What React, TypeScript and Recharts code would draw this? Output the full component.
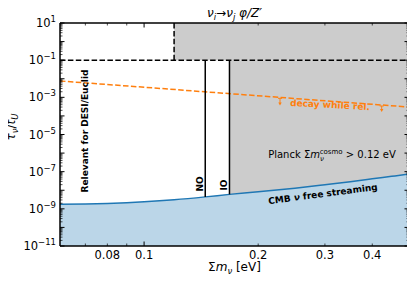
import {
  Area,
  ComposedChart,
  Line,
  ReferenceArea,
  ReferenceLine,
  XAxis,
  YAxis,
} from "recharts";

// sum of neutrino masses [eV] where the CMB free-streaming bound is read
const massSum = [0.06, 0.07, 0.08, 0.09, 0.1, 0.12, 0.145, 0.168, 0.2, 0.25, 0.3, 0.35, 0.4, 0.45, 0.5];
// tau_nu / t_U lower bound from CMB free streaming
const cmbTau = [1.74e-9, 1.82e-9, 1.95e-9, 2.14e-9, 2.4e-9, 3.1e-9, 4.4e-9, 6.0e-9, 8.2e-9, 1.3e-8, 2.0e-8, 2.9e-8, 4.1e-8, 5.6e-8, 7.4e-8];

// "decay while relativistic" line
const decayMass = [0.06, 0.5];
const decayTau = [7.6e-3, 3.0e-4];

const tauBound = 0.1;
const tauTop = 10;
const planckSum = 0.12;
const noSum = 0.145;
const ioSum = 0.168;

const xDomain = [0.06, 0.5];
const yDomain = [1e-11, 10];

const xTicks = [0.07, 0.08, 0.09, 0.1, 0.2, 0.3, 0.4];
const xMajor = [0.1];
const xLabels: Record<number, string> = { 0.08: "0.08", 0.1: "0.1", 0.2: "0.2", 0.3: "0.3", 0.4: "0.4" };

const yExponents = [-11, -10, -9, -8, -7, -6, -5, -4, -3, -2, -1, 0, 1];
const yLabelExponents = [-11, -9, -7, -5, -3, -1, 1];
const minorSteps = [2, 3, 4, 5, 6, 7, 8, 9];

const yTicks: number[] = [];
yExponents.forEach((e) => {
  yTicks.push(Math.pow(10, e));
  if (e < 1) minorSteps.forEach((s) => yTicks.push(s * Math.pow(10, e)));
});

const cmbData = massSum.map((m, i) => ({ m, tau: cmbTau[i] }));
const grayData = cmbData.filter((d) => d.m >= ioSum).map((d) => ({ m: d.m, band: [d.tau, tauBound] }));
const decayData = decayMass.map((m, i) => ({ m, tau: decayTau[i] }));
const tauAt = (m: number) => cmbTau[massSum.indexOf(m)];

const FONT = "DejaVu Sans";
const ORANGE = "#ff7f0e";
const BLUE = "#1f77b4";
const DASH = "5.5 2.4";

function isMajorY(v: number) {
  const e = Math.round(Math.log10(v));
  return { e, major: Math.abs(v / Math.pow(10, e) - 1) < 1e-6 };
}

function YTick(props: any) {
  const { x, y, payload, side } = props;
  const { e, major } = isMajorY(payload.value);
  const len = major ? 4.5 : 2.5;
  const dir = side === "left" ? 1 : -1;
  const labeled = side === "left" && major && yLabelExponents.includes(e);
  return (
    <g>
      <line x1={x} y1={y} x2={x + dir * len} y2={y} stroke="#000" strokeWidth={major ? 1 : 0.7} />
      {labeled && (
        <text x={x - 4} y={y + 4} textAnchor="end" fontSize={11.5} fontFamily={FONT} fill="#000">
          10
          <tspan dy={-5} fontSize={8.5}>
            {e < 0 ? "\u2212" + -e : e}
          </tspan>
        </text>
      )}
    </g>
  );
}

function XTick(props: any) {
  const { x, y, payload, side } = props;
  const v = payload.value;
  const major = xMajor.includes(v);
  const len = major ? 4.5 : 2.5;
  const dir = side === "bottom" ? -1 : 1;
  const label = side === "bottom" ? xLabels[v] : undefined;
  return (
    <g>
      <line x1={x} y1={y} x2={x} y2={y + dir * len} stroke="#000" strokeWidth={major ? 1 : 0.7} />
      {label && (
        <text x={x} y={y + 13} textAnchor="middle" fontSize={11.5} fontFamily={FONT} fill="#000">
          {label}
        </text>
      )}
    </g>
  );
}

// text annotations, drawn over the chart in page pixels
function Annotations() {
  return (
    <svg
      width={415}
      height={283}
      style={{ position: "absolute", left: 0, top: 0, pointerEvents: "none" }}
      fontFamily={FONT}
    >
      <text x={234.5} y={17} textAnchor="middle" fontSize={12} fill="#000">
        <tspan fontStyle="italic">ν</tspan>
        <tspan fontStyle="italic" fontSize={8.5} dy={2.5}>i</tspan>
        <tspan dy={-2.5}>→</tspan>
        <tspan fontStyle="italic">ν</tspan>
        <tspan fontStyle="italic" fontSize={8.5} dy={2.5}>j</tspan>
        <tspan dy={-2.5} fontStyle="italic"> φ/Z′</tspan>
      </text>
      <text x={234.5} y={271} textAnchor="middle" fontSize={12} fill="#000">
        Σ<tspan fontStyle="italic">m</tspan>
        <tspan fontStyle="italic" fontSize={8.5} dy={2.5}>ν</tspan>
        <tspan dy={-2.5}> [eV]</tspan>
      </text>
      <text transform="translate(15,127) rotate(-90)" textAnchor="middle" fontSize={12} fill="#000">
        <tspan fontStyle="italic">τ</tspan>
        <tspan fontStyle="italic" fontSize={8.5} dy={2.5}>ν</tspan>
        <tspan dy={-2.5}>/</tspan>
        <tspan fontStyle="italic">t</tspan>
        <tspan fontStyle="italic" fontSize={8.5} dy={2.5}>U</tspan>
      </text>
      <text
        transform="translate(85,131) rotate(-90)"
        textAnchor="middle"
        dominantBaseline="central"
        fontSize={9}
        fontWeight="bold"
        fill="#000"
      >
        Relevant for DESI/Euclid
      </text>
      <text transform="translate(200,184) rotate(-90)" textAnchor="middle" dominantBaseline="central" fontSize={9} fontWeight="bold">
        NO
      </text>
      <text transform="translate(224,185) rotate(-90)" textAnchor="middle" dominantBaseline="central" fontSize={9} fontWeight="bold">
        IO
      </text>
      <text x={332} y={158} textAnchor="middle" fontSize={10} fill="#000">
        Planck Σ<tspan fontStyle="italic">m</tspan>
        <tspan fontStyle="italic" fontSize={7} dy={2.5}>ν</tspan>
        <tspan fontSize={7} dx={-4.2} dy={-7}>cosmo</tspan>
        <tspan dy={4.5}> &gt; 0.12 eV</tspan>
      </text>
      <text
        transform="translate(323,194) rotate(-7.5)"
        textAnchor="middle"
        dominantBaseline="central"
        fontSize={9}
        fontWeight="bold"
        fill="#000"
      >
        CMB <tspan fontStyle="italic">ν</tspan> free streaming
      </text>
      <text
        transform="translate(330,105) rotate(3)"
        textAnchor="middle"
        dominantBaseline="central"
        fontSize={9}
        fontWeight="bold"
        fill={ORANGE}
      >
        decay while rel.
      </text>
      <g stroke={ORANGE} strokeWidth={1} fill={ORANGE}>
        <line x1={278} y1={98.3} x2={282} y2={98.3} />
        <line x1={280} y1={98.3} x2={280} y2={103} />
        <path d="M278.3,102.5 L281.7,102.5 L280,105.5 Z" stroke="none" />
        <line x1={379.7} y1={106} x2={383.7} y2={106} />
        <line x1={381.7} y1={106} x2={381.7} y2={109.5} />
        <path d="M380,109 L383.4,109 L381.7,112 Z" stroke="none" />
      </g>
    </svg>
  );
}

export default function App() {
  return (
    <div style={{ margin: "-8px 0 0 -8px", position: "relative", width: 415, height: 283 }}>
      <ComposedChart width={415} height={283} margin={{ top: 22, right: 5, left: 59, bottom: 36 }}>
        <XAxis
          xAxisId="b"
          dataKey="m"
          type="number"
          scale="log"
          domain={xDomain}
          allowDataOverflow
          ticks={xTicks}
          interval={0}
          height={1}
          tickSize={0}
          tickMargin={0}
          axisLine={{ stroke: "#000", strokeWidth: 1.5 }}
          tick={<XTick side="bottom" />}
        />
        <XAxis
          xAxisId="t"
          orientation="top"
          dataKey="m"
          type="number"
          scale="log"
          domain={xDomain}
          allowDataOverflow
          ticks={xTicks}
          interval={0}
          height={1}
          tickSize={0}
          tickMargin={0}
          axisLine={{ stroke: "#000", strokeWidth: 1.5 }}
          tick={<XTick side="top" />}
        />
        <YAxis
          yAxisId="l"
          type="number"
          scale="log"
          domain={yDomain}
          allowDataOverflow
          ticks={yTicks}
          interval={0}
          width={1}
          tickSize={0}
          tickMargin={0}
          axisLine={{ stroke: "#000", strokeWidth: 1.5 }}
          tick={<YTick side="left" />}
        />
        <YAxis
          yAxisId="r"
          orientation="right"
          type="number"
          scale="log"
          domain={yDomain}
          allowDataOverflow
          ticks={yTicks}
          interval={0}
          width={1}
          tickSize={0}
          tickMargin={0}
          axisLine={{ stroke: "#000", strokeWidth: 1.5 }}
          tick={<YTick side="right" />}
        />
        <ReferenceArea
          xAxisId="b"
          yAxisId="l"
          x1={planckSum}
          x2={xDomain[1]}
          y1={tauBound}
          y2={tauTop}
          fill="#cccccc"
          fillOpacity={1}
          stroke="none"
        />
        <Area
          xAxisId="b"
          yAxisId="l"
          data={grayData}
          dataKey="band"
          type="monotone"
          fill="#cccccc"
          fillOpacity={1}
          stroke="none"
          isAnimationActive={false}
        />
        <Area
          xAxisId="b"
          yAxisId="l"
          data={cmbData}
          dataKey="tau"
          type="monotone"
          baseValue={yDomain[0]}
          fill={BLUE}
          fillOpacity={0.3}
          stroke="none"
          isAnimationActive={false}
        />
        <Line
          xAxisId="b"
          yAxisId="l"
          data={cmbData}
          dataKey="tau"
          type="monotone"
          stroke={BLUE}
          strokeWidth={1.5}
          dot={false}
          isAnimationActive={false}
        />
        <Line
          xAxisId="b"
          yAxisId="l"
          data={decayData}
          dataKey="tau"
          type="linear"
          stroke={ORANGE}
          strokeWidth={1.5}
          strokeDasharray={DASH}
          dot={false}
          isAnimationActive={false}
        />
        <ReferenceLine xAxisId="b" yAxisId="l" y={tauBound} stroke="#000" strokeWidth={1.5} strokeDasharray={DASH} />
        <ReferenceLine
          xAxisId="b"
          yAxisId="l"
          segment={[
            { x: planckSum, y: tauBound },
            { x: planckSum, y: tauTop },
          ]}
          stroke="#000"
          strokeWidth={1.5}
          strokeDasharray={DASH}
        />
        <ReferenceLine
          xAxisId="b"
          yAxisId="l"
          segment={[
            { x: noSum, y: tauAt(noSum) },
            { x: noSum, y: tauBound },
          ]}
          stroke="#000"
          strokeWidth={1.5}
        />
        <ReferenceLine
          xAxisId="b"
          yAxisId="l"
          segment={[
            { x: ioSum, y: tauAt(ioSum) },
            { x: ioSum, y: tauBound },
          ]}
          stroke="#000"
          strokeWidth={1.5}
        />
      </ComposedChart>
      <Annotations />
    </div>
  );
}
